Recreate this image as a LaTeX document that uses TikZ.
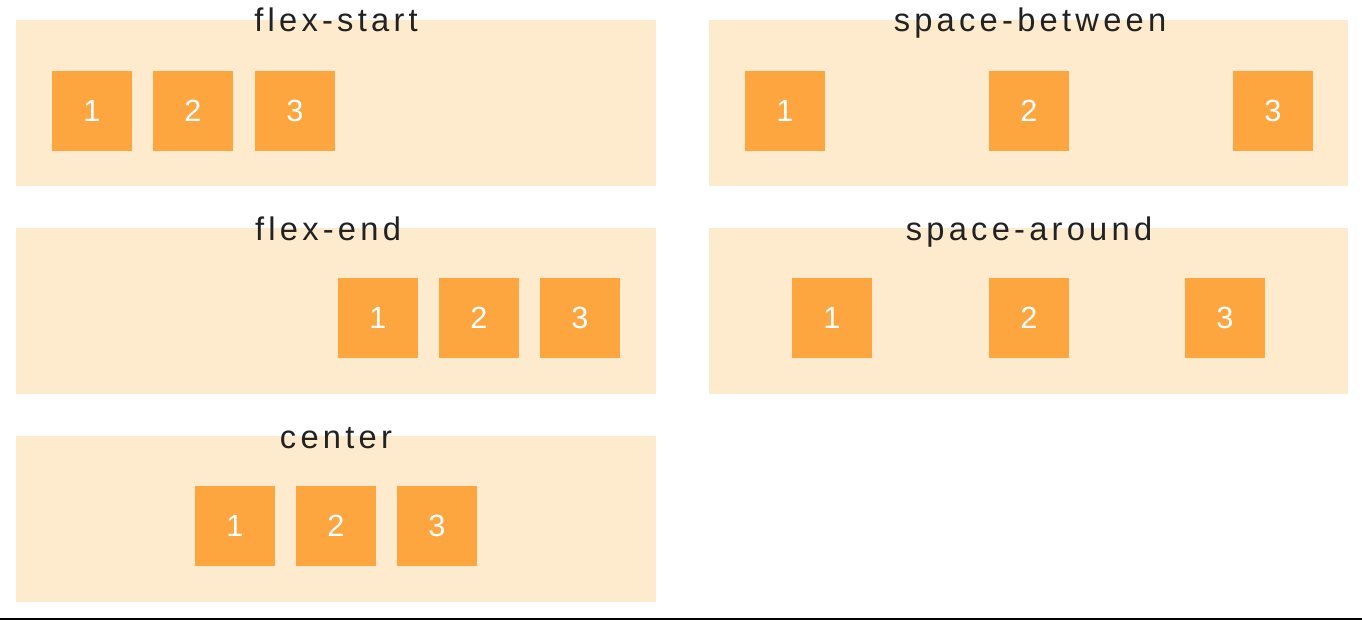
\documentclass[tikz,border=0pt]{standalone}
\usepackage{fontspec}
\setmainfont{Liberation Sans}
\newfontfamily\titlefont[LetterSpace=13]{Liberation Sans}
\definecolor{panelbg}{HTML}{FEEBCD}
\definecolor{boxor}{HTML}{FDA53F}
\definecolor{titlecol}{HTML}{222222}
\begin{document}
\begin{tikzpicture}[x=0.75pt,y=-0.75pt,
  panel/.style={fill=panelbg,draw=none},
  item/.style={fill=boxor,draw=none,minimum width=60pt,minimum height=60pt,inner sep=0pt,
    text=white,font=\fontsize{23}{23}\selectfont},
  ptitle/.style={anchor=base,inner sep=0pt,text=titlecol,font=\titlefont\fontsize{24.5}{24.5}\selectfont}]
\useasboundingbox (0,0) rectangle (1362,620);
% panels
\fill[panel] (16,20) rectangle (656,186);
\fill[panel] (16,228) rectangle (656,394);
\fill[panel] (16,436) rectangle (656,602);
\fill[panel] (709,20) rectangle (1348,186);
\fill[panel] (709,228) rectangle (1348,394);
% titles
\node[ptitle] (t1) at (336,32) {flex-start};
\node[ptitle] (t2) at (328,240) {flex-end};
\node[ptitle] (t3) at (336,448) {center};
\node[ptitle] (t4) at (1030,32) {space-between};
\node[ptitle] (t5) at (1029,240) {space-around};
% flex-start
\node[item] (a1) at (92,111) {\raisebox{-1.2pt}{1}};
\node[item] (a2) at (193,111) {\raisebox{-1.2pt}{2}};
\node[item] (a3) at (295,111) {\raisebox{-1.2pt}{3}};
% flex-end
\node[item] (b1) at (378,318) {\raisebox{-1.2pt}{1}};
\node[item] (b2) at (479,318) {\raisebox{-1.2pt}{2}};
\node[item] (b3) at (580,318) {\raisebox{-1.2pt}{3}};
% center
\node[item] (c1) at (235,526) {\raisebox{-1.2pt}{1}};
\node[item] (c2) at (336,526) {\raisebox{-1.2pt}{2}};
\node[item] (c3) at (437,526) {\raisebox{-1.2pt}{3}};
% space-between
\node[item] (d1) at (785,111) {\raisebox{-1.2pt}{1}};
\node[item] (d2) at (1029,111) {\raisebox{-1.2pt}{2}};
\node[item] (d3) at (1273,111) {\raisebox{-1.2pt}{3}};
% space-around
\node[item] (e1) at (832,318) {\raisebox{-1.2pt}{1}};
\node[item] (e2) at (1029,318) {\raisebox{-1.2pt}{2}};
\node[item] (e3) at (1225,318) {\raisebox{-1.2pt}{3}};
% bottom rule
\draw[black,line width=1.5pt] (0,618.8) -- (1362,618.8);
\end{tikzpicture}
\end{document}
